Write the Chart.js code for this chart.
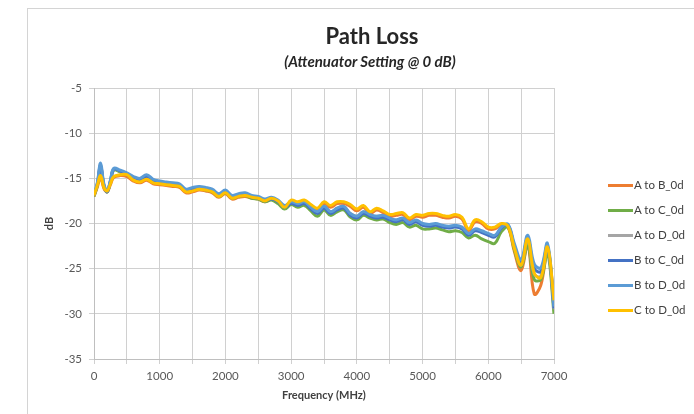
<!DOCTYPE html>
<html>
<head>
<meta charset="utf-8">
<script src="https://cdn.jsdelivr.net/npm/chart.js@4.4.1/dist/chart.umd.min.js"></script>
<style>
  body { margin: 0; background: #fff; }
  #wrap { position: relative; width: 694px; height: 414px; overflow: hidden; font-family: Lato, "Open Sans", sans-serif; }
  #frame { position: absolute; left: 27px; top: 8px; width: 680px; height: 430px; border: 1px solid #d4d4d4; }
  #chartPath { position: absolute; left: 0; top: 0; }
  #title { position: absolute; left: 222px; width: 300px; top: 22px; text-align: center; font-weight: bold; font-size: 22px; color: #262626; }
  #subtitle { position: absolute; left: 220px; width: 300px; top: 52px; text-align: center; font-weight: bold; font-style: italic; font-size: 15px; color: #262626; }
  #legend { position: absolute; left: 608px; top: 177px; font-size: 11.5px; color: #404040; }
  #legend div { height: 25px; display: flex; align-items: flex-start; line-height: 16px; }
  #legend span.swatch { display: inline-block; width: 25px; height: 2.5px; margin-top: 7px; margin-right: 1px; }
</style>
</head>
<body>
<div id="wrap">
  <div id="frame"></div>
  <canvas id="chartPath" width="694" height="414"></canvas>
  <div id="title">Path Loss</div>
  <div id="subtitle">(Attenuator Setting @ 0 dB)</div>
  <div id="legend"></div>
</div>
<script>
// frequency points in MHz
const freqs = [0, 50, 100, 150, 200, 250, 300,
  400, 500, 600, 700, 800, 900, 1000, 1100, 1200, 1300, 1400, 1500, 1600, 1700, 1800, 1900, 2000,
  2100, 2200, 2300, 2400, 2500, 2600, 2700, 2800, 2900, 3000, 3100, 3200, 3300, 3400, 3500, 3600,
  3700, 3800, 3900, 4000, 4100, 4200, 4300, 4400, 4500, 4600, 4700, 4800, 4900, 5000, 5100, 5200,
  5300, 5400, 5500, 5600, 5700, 5800, 5900, 6000, 6100, 6200, 6300, 6400, 6500, 6600, 6700, 6800,
  6900, 7000];

const seriesNames = ["A to B_0d", "A to C_0d", "A to D_0d", "B to C_0d", "B to D_0d", "C to D_0d"];
const seriesColors = ["#ED7D31", "#70AD47", "#A5A5A5", "#4472C4", "#5B9BD5", "#FFC000"];

const abLoss = [-17.0, -16.0, -14.9, -16.1, -16.5, -15.7, -14.9, -14.7, -14.8, -15.3,
  -15.5, -15.2, -15.6, -15.7, -15.8, -15.9, -16.0, -16.6, -16.5, -16.3,
  -16.4, -16.6, -17.1, -16.7, -17.3, -17.1, -17.0, -17.2, -17.3, -17.6,
  -17.3, -17.6, -18.3, -17.5, -17.7, -17.5, -18.0, -18.5, -17.8, -18.2,
  -17.8, -17.8, -18.1, -18.6, -18.2, -18.9, -18.5, -18.8, -19.2, -19.1,
  -19.0, -19.6, -19.2, -19.3, -19.1, -19.1, -19.3, -19.4, -19.2, -19.5,
  -20.8, -19.8, -20.0, -20.6, -20.6, -20.1, -20.4, -23.2, -25.2, -22.3,
  -27.8, -26.8, -23.2, -28.2];

const acLoss = [-17.0, -15.8, -13.8, -15.8, -16.5, -15.4, -14.1, -14.3, -14.6, -15.0,
  -15.2, -14.8, -15.3, -15.5, -15.6, -15.7, -15.9, -16.4, -16.3, -16.1,
  -16.3, -16.5, -17.0, -16.6, -17.2, -17.0, -16.9, -17.2, -17.3, -17.6,
  -17.4, -17.8, -18.4, -17.9, -18.2, -18.0, -18.6, -19.2, -18.5, -19.1,
  -18.7, -18.5, -19.3, -19.6, -19.1, -19.4, -19.6, -19.5, -19.9, -20.1,
  -19.9, -20.4, -20.2, -20.6, -20.6, -20.5, -20.7, -20.9, -20.8, -21.0,
  -21.6, -21.3, -21.7, -22.0, -22.2, -20.9, -20.4, -23.0, -24.8, -22.4,
  -26.2, -26.2, -23.2, -30.0];

const adLoss = [-16.9, -15.6, -13.5, -15.7, -16.4, -15.3, -14.0, -14.2, -14.5, -14.9,
  -15.1, -14.7, -15.2, -15.4, -15.5, -15.6, -15.7, -16.3, -16.1, -16.0,
  -16.1, -16.3, -16.8, -16.4, -17.0, -16.8, -16.7, -17.0, -17.1, -17.4,
  -17.2, -17.5, -18.1, -17.6, -17.8, -17.6, -18.2, -18.7, -18.1, -18.7,
  -18.3, -18.1, -18.9, -19.2, -18.7, -19.1, -19.2, -19.2, -19.5, -19.6,
  -19.5, -20.0, -19.7, -20.1, -20.2, -20.1, -20.3, -20.4, -20.3, -20.5,
  -21.2, -20.7, -20.9, -21.2, -21.4, -20.5, -20.2, -22.7, -24.6, -21.8,
  -25.6, -25.8, -22.6, -29.5];

const bcLoss = [-16.9, -15.7, -13.6, -15.8, -16.5, -15.3, -14.0, -14.2, -14.5, -14.9,
  -15.1, -14.8, -15.2, -15.4, -15.5, -15.6, -15.8, -16.4, -16.2, -16.0,
  -16.2, -16.4, -16.9, -16.5, -17.1, -16.9, -16.8, -17.1, -17.2, -17.5,
  -17.3, -17.6, -18.2, -17.8, -18.0, -17.8, -18.4, -18.9, -18.3, -18.9,
  -18.5, -18.3, -19.1, -19.4, -18.9, -19.2, -19.4, -19.3, -19.6, -19.8,
  -19.6, -20.1, -19.8, -20.2, -20.3, -20.2, -20.4, -20.5, -20.4, -20.6,
  -21.3, -20.8, -21.0, -21.3, -21.5, -20.5, -20.2, -22.6, -24.4, -21.6,
  -25.0, -25.3, -22.5, -29.4];

const bdLoss = [-16.8, -15.5, -13.3, -15.6, -16.4, -15.2, -13.9, -14.1, -14.4, -14.8,
  -15.0, -14.6, -15.1, -15.3, -15.4, -15.5, -15.6, -16.2, -16.0, -15.9,
  -16.0, -16.2, -16.7, -16.3, -16.9, -16.7, -16.6, -16.9, -17.0, -17.3,
  -17.1, -17.4, -18.0, -17.6, -17.8, -17.6, -18.2, -18.7, -18.1, -18.7,
  -18.3, -18.1, -18.9, -19.2, -18.7, -19.0, -19.2, -19.1, -19.4, -19.6,
  -19.4, -19.9, -19.6, -20.0, -20.1, -20.0, -20.2, -20.3, -20.2, -20.4,
  -21.1, -20.6, -20.8, -21.1, -21.3, -20.4, -20.1, -22.3, -24.0, -21.3,
  -24.5, -24.9, -22.2, -29.2];

const cdLoss = [-16.9, -15.8, -14.7, -16.0, -16.4, -15.6, -14.8, -14.6, -14.6, -15.2,
  -15.4, -15.1, -15.5, -15.6, -15.7, -15.8, -15.9, -16.5, -16.4, -16.2,
  -16.3, -16.5, -17.0, -16.6, -17.2, -17.0, -16.9, -17.1, -17.2, -17.5,
  -17.2, -17.5, -18.2, -17.4, -17.6, -17.4, -17.9, -18.3, -17.6, -18.0,
  -17.6, -17.6, -17.9, -18.4, -18.0, -18.7, -18.3, -18.6, -19.0, -18.9,
  -18.8, -19.4, -19.0, -19.1, -18.9, -18.9, -19.1, -19.2, -19.0, -19.3,
  -20.6, -19.6, -19.8, -20.4, -20.4, -20.0, -20.3, -22.8, -24.6, -21.7,
  -25.5, -26.0, -22.6, -28.5];

const allLoss = [abLoss, acLoss, adLoss, bcLoss, bdLoss, cdLoss];

const yTicks = { min: -35, max: -5, step: 5 };
const xTicks = { min: 0, max: 7000, step: 500, labelEvery: 1000 };

const datasets = allLoss.map((vals, i) => ({
  label: seriesNames[i],
  data: freqs.map((f, j) => ({ x: f, y: vals[j] })),
  borderColor: seriesColors[i],
  backgroundColor: seriesColors[i],
  borderWidth: 3,
  pointRadius: 0,
  tension: 0.4,
  fill: false,
  order: allLoss.length - i, // later series drawn on top, like the source
}));

const tickFont = { family: "Lato, 'Open Sans', sans-serif", size: 11.5 };
const titleFont = { family: "Lato, 'Open Sans', sans-serif", size: 11, weight: "bold" };

const chart = new Chart(document.getElementById("chartPath"), {
  type: "line",
  data: { datasets: datasets },
  options: {
    responsive: false,
    animation: false,
    layout: { padding: { top: 88, right: 140, left: 0, bottom: 0 } },
    plugins: {
      legend: { display: false },
      title: { display: false },
      tooltip: { enabled: false },
    },
    scales: {
      x: {
        type: "linear",
        min: xTicks.min,
        max: xTicks.max,
        afterFit: (scale) => { scale.height = 55; },
        ticks: {
          stepSize: xTicks.step,
          autoSkip: false,
          maxRotation: 0,
          padding: 5,
          color: "#595959",
          font: tickFont,
          callback: (v) => (v % xTicks.labelEvery === 0 ? String(v) : ""),
        },
        grid: { color: "#d0d0d0", tickLength: 5 },
        border: { color: "#bfbfbf" },
        title: { display: true, text: "Frequency (MHz)", color: "#404040", font: titleFont, padding: { top: 0, bottom: 12 } },
      },
      y: {
        min: yTicks.min,
        max: yTicks.max,
        afterFit: (scale) => { scale.width = 94; },
        ticks: { stepSize: yTicks.step, padding: 7, color: "#595959", font: tickFont },
        grid: { color: "#d0d0d0", tickLength: 5 },
        border: { color: "#bfbfbf" },
        title: { display: true, text: "dB", color: "#404040", font: titleFont, padding: { top: 43, bottom: 0 } },
      },
    },
  },
});

// legend built from the chart's own datasets
const legendEl = document.getElementById("legend");
chart.data.datasets.forEach((ds) => {
  const row = document.createElement("div");
  const sw = document.createElement("span");
  sw.className = "swatch";
  sw.style.background = ds.borderColor;
  row.appendChild(sw);
  row.appendChild(document.createTextNode(ds.label));
  legendEl.appendChild(row);
});
</script>
</body>
</html>
